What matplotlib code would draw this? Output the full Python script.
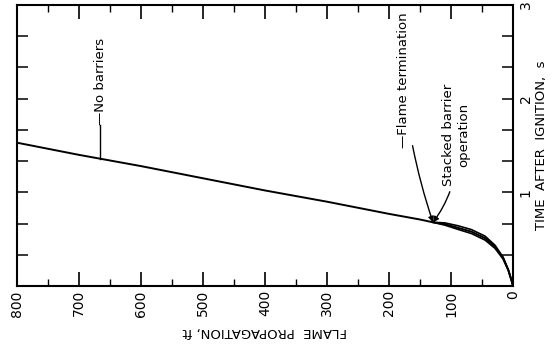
import matplotlib
matplotlib.use("Agg")
from matplotlib import pyplot as plt
from matplotlib.ticker import MultipleLocator

# flame propagation (ft) vs time after ignition (s)
dist_nb = [800, 700, 600, 500, 400, 300, 200, 150, 129, 110, 88, 67, 45, 29, 16, 7.5, 2, 0]
time_nb = [1.53, 1.40, 1.28, 1.15, 1.02, 0.90, 0.77, 0.71, 0.68, 0.66, 0.62, 0.58, 0.51, 0.42, 0.30, 0.17, 0.05, 0.0]

# stacked barrier runs (thick bundle near the end)
dist_sb = [129, 110, 88, 67, 45, 29, 16, 7.5, 2, 0]
time_sb1 = [0.68, 0.674, 0.642, 0.602, 0.532, 0.435, 0.308, 0.172, 0.05, 0.0]
time_sb2 = [0.68, 0.65, 0.603, 0.56, 0.49, 0.402, 0.288, 0.165, 0.05, 0.0]

xticks = [800, 700, 600, 500, 400, 300, 200, 100, 0]
yticks = [1, 2, 3]

plt.rcParams['font.family'] = 'DejaVu Sans'

fig = plt.figure(figsize=(5.55, 3.52), dpi=100)
ax = fig.add_axes([17/555, 1-286/352, (513-17)/555, (286-5)/352])

ax.plot(dist_nb, time_nb, color='black', lw=1.4)
ax.plot(dist_sb, time_sb1, color='black', lw=1.2)
ax.plot(dist_sb, time_sb2, color='black', lw=1.2)

ax.set_xlim(800, 0)
ax.set_ylim(0, 3)

# ticks
ax.xaxis.set_major_locator(MultipleLocator(100))
ax.xaxis.set_minor_locator(MultipleLocator(50))
ax.yaxis.set_major_locator(MultipleLocator(1))
ax.yaxis.set_minor_locator(MultipleLocator(1/3))
ax.tick_params(axis='x', which='major', direction='in', length=10, width=1.2, top=True, pad=3)
ax.tick_params(axis='x', which='minor', direction='in', length=5, width=1, top=True)
ax.tick_params(axis='y', which='both', direction='in', length=8, width=1.1,
               left=True, right=True, labelleft=False, labelright=True, pad=4)
ax.set_xticks(xticks)
ax.set_xticklabels([str(v) for v in xticks], rotation=90, fontsize=10)
ax.set_yticks(yticks)
ax.set_yticklabels([str(v) for v in yticks], rotation=90, fontsize=10, va='center')

for s in ax.spines.values():
    s.set_linewidth(1.5)

ax.set_xlabel('FLAME  PROPAGATION, ft', rotation=180, fontsize=9.5, labelpad=6)
ax.yaxis.set_label_position('right')
ax.set_ylabel('TIME  AFTER  IGNITION,  s', rotation=90, fontsize=9.5, labelpad=2)

# annotations
ax.plot([666, 666], [1.36, 1.72], color='black', lw=1)
ax.text(666, 1.72, '\u2014No barriers', rotation=90, ha='center', va='bottom', fontsize=9.5)

ax.annotate('\u2014Flame termination', xy=(129, 0.68), xytext=(177, 1.47),
            rotation=90, ha='center', va='bottom', fontsize=9.5,
            arrowprops=dict(arrowstyle='-|>', color='black', lw=1,
                            connectionstyle='arc3,rad=0.06', shrinkA=0, shrinkB=0,
                            mutation_scale=8))
ax.annotate('Stacked barrier\noperation', xy=(129, 0.68), xytext=(92, 1.61),
            rotation=90, ha='center', va='center', fontsize=9.5, multialignment='center',
            arrowprops=dict(arrowstyle='-|>', color='black', lw=1,
                            connectionstyle='arc3,rad=-0.2', shrinkA=2, shrinkB=0,
                            mutation_scale=8))

fig.savefig('out.png', dpi=100)
